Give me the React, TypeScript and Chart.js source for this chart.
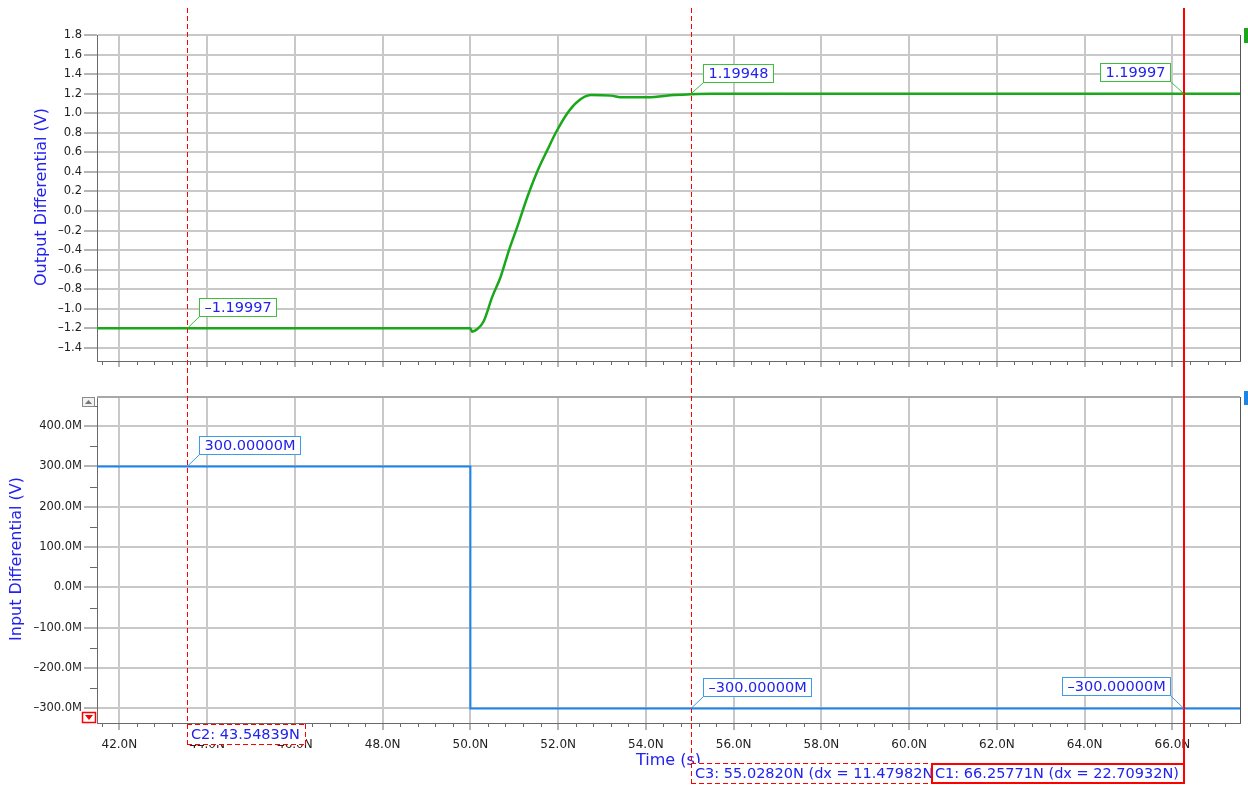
import React, { useEffect, useRef } from "react";
import { Chart, registerables } from "chart.js";
Chart.register(...registerables);

// ---------- data ----------
const outTime = [41.49, 50.0, 50.04, 50.15, 50.3, 50.5, 50.69, 50.88, 51.07, 51.3, 51.52, 51.75, 51.94, 52.21, 52.44, 52.74, 53.2, 53.47, 54.04, 54.65, 55.03, 55.5, 67.54];
const outValue = [-1.2, -1.2, -1.235, -1.21, -1.13, -0.876, -0.672, -0.4, -0.16, 0.146, 0.4, 0.62, 0.795, 1.0, 1.118, 1.186, 1.18, 1.163, 1.163, 1.186, 1.195, 1.2, 1.2];
const inTime = [41.49, 50.0, 50.0, 67.54];
const inValue = [300, 300, -300, -300]; // in M (milli) volts

const xMin = 41.49;
const xMax = 67.54;
const xMajorTicks = [42, 44, 46, 48, 50, 52, 54, 56, 58, 60, 62, 64, 66];
const xMinorStep = 0.4;
const outTicks = [-1.4, -1.2, -1.0, -0.8, -0.6, -0.4, -0.2, 0.0, 0.2, 0.4, 0.6, 0.8, 1.0, 1.2, 1.4, 1.6, 1.8];
const outMin = -1.534;
const outMax = 1.8;
const inTicks = [-300, -200, -100, 0, 100, 200, 300, 400];
const inMinorTicks = [-250, -150, -50, 50, 150, 250, 350, 450];
const inMin = -336;
const inMax = 472;

const cursorNames = ["C1", "C2", "C3"];
const cursorTimes = [66.25771, 43.54839, 55.0282];
const cursorLabels = ["C1: 66.25771N (dx = 22.70932N)", "C2: 43.54839N", "C3: 55.02820N (dx = 11.47982N)"];

const outMarkerTimes = [43.54839, 55.0282, 66.25771];
const outMarkerValues = [-1.19997, 1.19948, 1.19997];
const outMarkerTexts = ["–1.19997", "1.19948", "1.19997"];
const inMarkerTimes = [43.54839, 55.0282, 66.25771];
const inMarkerValues = [300, -300, -300];
const inMarkerTexts = ["300.00000M", "–300.00000M", "–300.00000M"];

// ---------- styles ----------
const FONT = '"DejaVu Sans", "Liberation Sans", sans-serif';
const gridColor = "#c8c8c8";
const axisColor = "#6a6a6a";
const textBlue = "#2222ee";
const green = "#19a819";
const blue = "#1d84e8";
const red = "#ff0000";

const fmtNum = (v: number, d: number) => (v < -1e-9 ? "–" : "") + Math.abs(v).toFixed(d);

function strokeLine(ctx: CanvasRenderingContext2D, x1: number, y1: number, x2: number, y2: number) {
  ctx.beginPath();
  ctx.moveTo(x1, y1);
  ctx.lineTo(x2, y2);
  ctx.stroke();
}

function drawMarker(ctx: CanvasRenderingContext2D, px: number, py: number, text: string, side: string, border: string) {
  ctx.font = `14.5px ${FONT}`;
  const w = Math.round(ctx.measureText(text).width + 11);
  const h = 19;
  let bx: number, by: number, cx: number;
  if (side === "right") {
    bx = Math.round(px + 12);
    by = Math.round(py - 11 - h);
    cx = bx;
  } else {
    bx = Math.round(px - 13 - w);
    by = Math.round(py - 12 - h);
    cx = bx + w;
  }
  ctx.strokeStyle = border;
  ctx.lineWidth = 1;
  ctx.setLineDash([]);
  strokeLine(ctx, px, py, cx, by + h);
  ctx.fillStyle = "#fff";
  ctx.fillRect(bx, by, w, h);
  ctx.strokeRect(bx + 0.5, by + 0.5, w - 1, h - 1);
  ctx.fillStyle = textBlue;
  ctx.textAlign = "left";
  ctx.textBaseline = "middle";
  ctx.fillText(text, bx + 5.5, by + h / 2 + 1);
}

// vertical dashed line drawn as crisp 1px dashes
function dashedV(ctx: CanvasRenderingContext2D, x: number, y1: number, y2: number, on: number, off: number) {
  ctx.fillStyle = red;
  for (let y = y1; y < y2; y += on + off) {
    ctx.fillRect(x, y, 1, Math.min(on, y2 - y));
  }
}
function dashedH(ctx: CanvasRenderingContext2D, x1: number, x2: number, y: number, on: number, off: number) {
  ctx.fillStyle = red;
  for (let x = x1; x < x2; x += on + off) {
    ctx.fillRect(x, y, Math.min(on, x2 - x), 1);
  }
}

function drawCursorBox(ctx: CanvasRenderingContext2D, text: string, x: number, y: number, alignRight: boolean, dashed: boolean) {
  ctx.font = `14.5px ${FONT}`;
  const w = Math.round(ctx.measureText(text).width + 10);
  const h = 21;
  const bx = alignRight ? Math.round(x - w) : Math.round(x);
  ctx.fillStyle = "#fff";
  ctx.fillRect(bx, y, w, h);
  if (dashed) {
    dashedH(ctx, bx, bx + w, y, 5, 3);
    dashedH(ctx, bx, bx + w, y + h - 1, 5, 3);
    dashedV(ctx, bx, y, y + h, 5, 3);
    dashedV(ctx, bx + w - 1, y, y + h, 5, 3);
  } else {
    ctx.strokeStyle = red;
    ctx.lineWidth = 2;
    ctx.setLineDash([]);
    ctx.strokeRect(bx + 1, y + 1, w - 2, h - 2);
  }
  ctx.fillStyle = textBlue;
  ctx.textAlign = "left";
  ctx.textBaseline = "middle";
  ctx.fillText(text, bx + 4, y + h / 2 + 1);
}

function drawRotatedTitle(ctx: CanvasRenderingContext2D, text: string, cx: number, cy: number) {
  ctx.save();
  ctx.translate(cx, cy);
  ctx.rotate(-Math.PI / 2);
  ctx.font = `16px ${FONT}`;
  ctx.fillStyle = textBlue;
  ctx.textAlign = "center";
  ctx.textBaseline = "middle";
  ctx.fillText(text, 0, 0);
  ctx.restore();
}

function drawMinorX(ctx: CanvasRenderingContext2D, chart: any) {
  const xs = chart.scales.x;
  const area = chart.chartArea;
  ctx.strokeStyle = axisColor;
  ctx.lineWidth = 1;
  for (let i = Math.ceil(xs.min / xMinorStep); i * xMinorStep <= xs.max + 1e-9; i++) {
    const v = i * xMinorStep;
    if (Math.abs(v / 2 - Math.round(v / 2)) < 1e-6) continue;
    const px = Math.round(xs.getPixelForValue(v)) + 0.5;
    strokeLine(ctx, px, area.bottom, px, area.bottom + 4);
  }
}

function drawCursorLine(ctx: CanvasRenderingContext2D, px: number, y1: number, y2: number, solid: boolean) {
  if (solid) {
    ctx.strokeStyle = red;
    ctx.lineWidth = 2;
    ctx.setLineDash([]);
    strokeLine(ctx, Math.round(px), y1, Math.round(px), y2);
  } else {
    dashedV(ctx, Math.round(px), y1, y2, 5, 3);
  }
}

const topOverlay = {
  id: "topOverlay",
  afterDraw(chart: any) {
    const ctx: CanvasRenderingContext2D = chart.ctx;
    const xs = chart.scales.x;
    const ys = chart.scales.y;
    const area = chart.chartArea;
    ctx.save();
    ctx.strokeStyle = "#555";
    ctx.lineWidth = 1;
    strokeLine(ctx, area.right + 0.5, area.top, area.right + 0.5, area.bottom);
    drawMinorX(ctx, chart);
    ctx.fillStyle = green;
    ctx.fillRect(1244, 28, 4, 15);
    cursorNames.forEach((n, i) => {
      drawCursorLine(ctx, xs.getPixelForValue(cursorTimes[i]), 8, chart.height, n === "C1");
    });
    outMarkerTimes.forEach((t, i) => {
      const px = xs.getPixelForValue(t);
      const py = ys.getPixelForValue(outMarkerValues[i]);
      drawMarker(ctx, px, py, outMarkerTexts[i], t > 60 ? "left" : "right", "#3cbf3c");
    });
    drawRotatedTitle(ctx, "Output Differential (V)", 42, 197);
    ctx.restore();
  },
};

const bottomOverlay = {
  id: "bottomOverlay",
  afterDraw(chart: any) {
    const ctx: CanvasRenderingContext2D = chart.ctx;
    const xs = chart.scales.x;
    const ys = chart.scales.y;
    const area = chart.chartArea;
    ctx.save();
    ctx.strokeStyle = "#a8a8a8";
    ctx.lineWidth = 2;
    strokeLine(ctx, area.left, area.top, area.right, area.top);
    ctx.strokeStyle = "#555";
    ctx.lineWidth = 1;
    strokeLine(ctx, area.right + 0.5, area.top, area.right + 0.5, area.bottom);
    drawMinorX(ctx, chart);
    ctx.strokeStyle = axisColor;
    inMinorTicks.forEach((v) => {
      const py = Math.round(ys.getPixelForValue(v)) + 0.5;
      if (py < area.top || py > area.bottom) return;
      strokeLine(ctx, area.left - 7, py, area.left, py);
    });
    ctx.fillStyle = blue;
    ctx.fillRect(1244, 11, 4, 14);
    // scroll buttons
    ctx.fillStyle = "#f2f2f2";
    ctx.fillRect(82, area.top, 13, 10);
    ctx.strokeStyle = "#8a8a8a";
    ctx.strokeRect(82.5, area.top + 0.5, 12, 9);
    ctx.fillStyle = "#777";
    ctx.beginPath();
    ctx.moveTo(85, area.top + 7);
    ctx.lineTo(92, area.top + 7);
    ctx.lineTo(88.5, area.top + 3);
    ctx.closePath();
    ctx.fill();
    const dy = area.bottom - 11;
    ctx.fillStyle = "#fff";
    ctx.fillRect(82, dy, 14, 11);
    ctx.strokeStyle = red;
    ctx.lineWidth = 1.5;
    ctx.strokeRect(82.5, dy + 0.5, 13, 10);
    ctx.fillStyle = red;
    ctx.beginPath();
    ctx.moveTo(85, dy + 3);
    ctx.lineTo(93, dy + 3);
    ctx.lineTo(89, dy + 8);
    ctx.closePath();
    ctx.fill();
    drawRotatedTitle(ctx, "Input Differential (V)", 17, 179);
    ctx.font = `16px ${FONT}`;
    ctx.fillStyle = textBlue;
    ctx.textAlign = "left";
    ctx.textBaseline = "middle";
    ctx.fillText("Time (s)", 636, 381);
    const boxTop: Record<string, number> = { C1: 383, C2: Math.round(area.bottom) + 1, C3: 383 };
    cursorNames.forEach((n, i) => {
      drawCursorLine(ctx, xs.getPixelForValue(cursorTimes[i]), 0, boxTop[n] + (n === "C1" ? 21 : 0), n === "C1");
    });
    inMarkerTimes.forEach((t, i) => {
      const px = xs.getPixelForValue(t);
      const py = ys.getPixelForValue(inMarkerValues[i]);
      drawMarker(ctx, px, py, inMarkerTexts[i], t > 60 ? "left" : "right", "#3d9be9");
    });
    const order = ["C2", "C3", "C1"];
    order.forEach((n) => {
      const i = cursorNames.indexOf(n);
      const px = xs.getPixelForValue(cursorTimes[i]);
      if (n === "C1") drawCursorBox(ctx, cursorLabels[i], Math.round(px) + 1, boxTop[n], true, false);
      else drawCursorBox(ctx, cursorLabels[i], Math.round(px), boxTop[n], false, true);
    });
    ctx.restore();
  },
};

const tickFont = { family: FONT, size: 11.5 };

function makeTopConfig(): any {
  return {
    type: "line",
    data: {
      datasets: [
        {
          data: outTime.map((t, i) => ({ x: t, y: outValue[i] })),
          borderColor: green,
          borderWidth: 2.5,
          pointRadius: 0,
          cubicInterpolationMode: "monotone",
          fill: false,
        },
      ],
    },
    options: {
      animation: false,
      responsive: false,
      maintainAspectRatio: false,
      events: [],
      layout: { padding: { left: 0, right: 8, top: 35, bottom: 9 } },
      plugins: { legend: { display: false }, tooltip: { enabled: false }, title: { display: false } },
      scales: {
        x: {
          type: "linear",
          min: xMin,
          max: xMax,
          afterBuildTicks: (s: any) => {
            s.ticks = xMajorTicks.map((v) => ({ value: v }));
          },
          afterFit: (s: any) => {
            s.height = 10;
          },
          ticks: { display: false },
          grid: { color: gridColor, lineWidth: 2, drawTicks: true, tickLength: 6, tickColor: axisColor, tickWidth: 1 },
          border: { display: true, color: axisColor, width: 1 },
        },
        y: {
          type: "linear",
          min: outMin,
          max: outMax,
          afterBuildTicks: (s: any) => {
            s.ticks = outTicks.map((v) => ({ value: v }));
          },
          afterFit: (s: any) => {
            s.width = 97;
          },
          ticks: { font: tickFont, color: "#222", padding: 2, callback: (v: number) => fmtNum(v, 1) },
          grid: { color: gridColor, lineWidth: 2, drawTicks: true, tickLength: 13, tickColor: axisColor, tickWidth: 1 },
          border: { display: true, color: axisColor, width: 1 },
        },
      },
    },
    plugins: [topOverlay],
  };
}

function makeBottomConfig(): any {
  return {
    type: "line",
    data: {
      datasets: [
        {
          data: inTime.map((t, i) => ({ x: t, y: inValue[i] })),
          borderColor: blue,
          borderWidth: 2,
          pointRadius: 0,
          tension: 0,
          fill: false,
        },
      ],
    },
    options: {
      animation: false,
      responsive: false,
      maintainAspectRatio: false,
      events: [],
      layout: { padding: { left: 0, right: 8, top: 17, bottom: 32 } },
      plugins: { legend: { display: false }, tooltip: { enabled: false }, title: { display: false } },
      scales: {
        x: {
          type: "linear",
          min: xMin,
          max: xMax,
          afterBuildTicks: (s: any) => {
            s.ticks = xMajorTicks.map((v) => ({ value: v }));
          },
          afterFit: (s: any) => {
            s.height = 30;
          },
          ticks: {
            font: { family: FONT, size: 12 },
            color: "#222",
            padding: 8,
            maxRotation: 0,
            autoSkip: false,
            callback: (v: number) => v.toFixed(1) + "N",
          },
          grid: { color: gridColor, lineWidth: 2, drawTicks: true, tickLength: 7, tickColor: axisColor, tickWidth: 1 },
          border: { display: true, color: axisColor, width: 1 },
        },
        y: {
          type: "linear",
          min: inMin,
          max: inMax,
          afterBuildTicks: (s: any) => {
            s.ticks = inTicks.map((v) => ({ value: v }));
          },
          afterFit: (s: any) => {
            s.width = 97;
          },
          ticks: { font: tickFont, color: "#222", padding: 2, callback: (v: number) => fmtNum(v, 1) + "M" },
          grid: { color: gridColor, lineWidth: 2, drawTicks: true, tickLength: 13, tickColor: axisColor, tickWidth: 1 },
          border: { display: true, color: axisColor, width: 1 },
        },
      },
    },
    plugins: [bottomOverlay],
  };
}

export default function App() {
  const topRef = useRef<HTMLCanvasElement>(null);
  const botRef = useRef<HTMLCanvasElement>(null);
  useEffect(() => {
    const top = new Chart(topRef.current as HTMLCanvasElement, makeTopConfig());
    const bot = new Chart(botRef.current as HTMLCanvasElement, makeBottomConfig());
    return () => {
      top.destroy();
      bot.destroy();
    };
  }, []);
  return (
    <div style={{ position: "fixed", left: 0, top: 0, width: 1248, height: 785, background: "#fff", overflow: "hidden" }}>
      <canvas ref={topRef} width={1248} height={380} style={{ position: "absolute", left: 0, top: 0, width: 1248, height: 380 }} />
      <canvas ref={botRef} width={1248} height={405} style={{ position: "absolute", left: 0, top: 380, width: 1248, height: 405 }} />
    </div>
  );
}
